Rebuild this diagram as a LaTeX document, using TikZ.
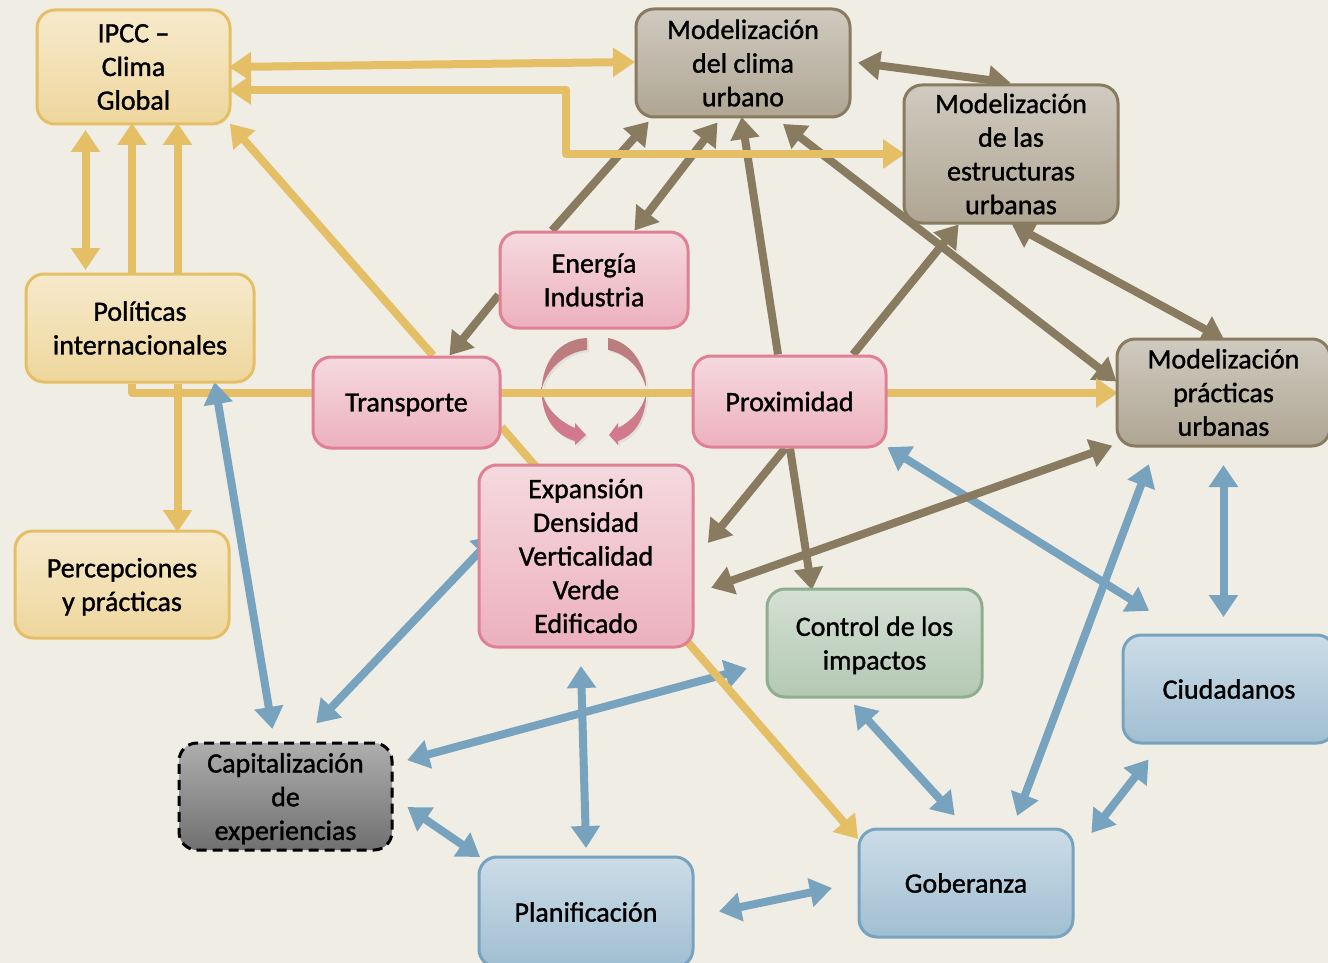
\documentclass[tikz,border=0pt]{standalone}
\usepackage{fontspec}
\setmainfont{Carlito}[BoldFont=Carlito,BoldFeatures={FakeBold=1.2}]
\usetikzlibrary{arrows.meta,shadows,backgrounds}
\definecolor{bgcol}{HTML}{EFEDE4}
\definecolor{goldcol}{HTML}{E5BF65}
\definecolor{browncol}{HTML}{897B60}
\definecolor{bluecol}{HTML}{78A3BF}
\definecolor{pinkcol}{HTML}{E08095}
\definecolor{greencol}{HTML}{8FAE8F}
\tikzset{
  box/.style={rectangle,rounded corners=18pt,line width=3pt,inner sep=0pt,align=center,text=black,
    font=\fontsize{28}{33.7}\selectfont\bfseries},
  lowtext/.style={text depth=0pt},
  goldbox/.style={box,draw=goldcol,top color=goldcol!33!white,bottom color=goldcol!64!white},
  greybox/.style={box,draw=browncol,top color=browncol!40!white,bottom color=browncol!68!white},
  pinkbox/.style={box,draw=pinkcol,top color=pinkcol!30!white,bottom color=pinkcol!62!white},
  greenbox/.style={box,draw=greencol,top color=greencol!38!white,bottom color=greencol!68!white},
  bluebox/.style={box,draw=bluecol,top color=bluecol!38!white,bottom color=bluecol!70!white},
  darkbox/.style={box,draw=black,dash pattern=on 10pt off 6pt,top color=black!32,bottom color=black!56},
  link/.style={line width=8pt,line join=round,shorten <=-2.5pt,shorten >=-2.5pt,
    {Triangle[length=22pt,width=28pt]}-{Triangle[length=22pt,width=28pt]}},
  oneway/.style={line width=8pt,line join=round,shorten >=-2.5pt,-{Triangle[length=22pt,width=28pt]}},
  crescent/.style={top color=pinkcol!55!browncol,bottom color=pinkcol!95!black,
    drop shadow={opacity=.12,shadow xshift=2pt,shadow yshift=-2pt}}
}
\begin{document}
\begin{tikzpicture}[x=1pt,y=-1pt]
  \useasboundingbox (0,0) rectangle (1328,963);
  \coordinate (kneeA) at (566,90);
  \coordinate (kneeB) at (566,154);
  \coordinate (kneeC) at (132,393);

  \node[goldbox,minimum width=193pt,minimum height=114pt] (ipcc) at (133.5,67) {IPCC --\\Clima\\Global};
  \node[goldbox,minimum width=228pt,minimum height=108pt] (polit) at (140,328) {Políticas\\internacionales};
  \node[goldbox,lowtext,minimum width=214pt,minimum height=107pt] (percep) at (122,584.5) {Percepciones\\y prácticas};
  \node[greybox,minimum width=214pt,minimum height=108pt] (mclima) at (743,63) {Modelización\\del clima\\urbano};
  \node[greybox,minimum width=214pt,minimum height=138pt] (mestr) at (1011,154) {Modelización\\de las\\estructuras\\urbanas};
  \node[greybox,minimum width=213pt,minimum height=107pt] (mpract) at (1223.5,392.5) {Modelización\\prácticas\\urbanas};
  \node[pinkbox,minimum width=188pt,minimum height=96pt] (energia) at (594,280) {Energía\\Industria};
  \node[pinkbox,lowtext,minimum width=187pt,minimum height=91pt] (transp) at (406.5,402.5) {Transporte};
  \node[pinkbox,minimum width=193pt,minimum height=91pt] (prox) at (789.5,401.5) {Proximidad};
  \node[pinkbox,minimum width=214pt,minimum height=182pt] (expan) at (586,556) {Expansión\\Densidad\\Verticalidad\\Verde\\Edificado};
  \node[greenbox,lowtext,minimum width=215pt,minimum height=108pt] (control) at (874.5,643) {Control de los\\impactos};
  \node[darkbox,lowtext,minimum width=213pt,minimum height=107pt] (capit) at (285.5,796.5) {Capitalización\\de\\experiencias};
  \node[bluebox,minimum width=214pt,minimum height=110pt] (plan) at (586,912) {Planificación};
  \node[bluebox,minimum width=214pt,minimum height=108pt] (gober) at (966,883) {Goberanza};
  \node[bluebox,minimum width=212pt,minimum height=108pt] (ciud) at (1229,689) {Ciudadanos};

  \begin{scope}[on background layer]
    \fill[bgcol] (0,0) rectangle (1328,963);
    % blue ones
    \begin{scope}[bluecol]
      \draw[link] ([shift={(16,-19)}]expan.west) -- ([shift={(32.5,-20)}]capit.north);
      \draw[link] ([shift={(16,-37)}]capit.east) -- ([shift={(-21,26)}]control.west);
      \draw[link] ([shift={(16,12)}]capit.east) -- ([shift={(-108,0)}]plan.north);
      \draw[link] ([shift={(-5,20)}]expan.south) -- ([shift={(0,-10)}]plan.north);
      \draw[link] ([shift={(27,-1)}]plan.east) -- ([shift={(-28,5.5)}]gober.west);
      \draw[link] ([shift={(-19,8)}]control.south) -- ([shift={(-13,-14)}]gober.north);
      \draw[link] ([shift={(52,-14)}]gober.north) -- ([shift={(-75.5,19)}]mpract.south);
      \draw[link] ([shift={(18.5,-52)}]gober.east) -- ([shift={(-82,17)}]ciud.south);
      \draw[link] ([shift={(0,20)}]mpract.south) -- ([shift={(-5.5,-19)}]ciud.north);
      \draw[link] ([shift={(2,0)}]prox.south east) -- ([shift={(-82,-24)}]ciud.north);
    \end{scope}
    % brown ones
    \begin{scope}[browncol]
      \draw[oneway] ([shift={(-42,0)}]energia.north) -- ([shift={(-96,5)}]mclima.south);
      \draw[link] ([shift={(-27,6)}]mclima.south) -- ([shift={(42,-2)}]energia.north);
      \draw[oneway] ([shift={(0,15)}]energia.west) -- ([shift={(44.5,-2)}]transp.north);
      \draw[oneway] ([shift={(-11.5,0)}]prox.north) -- ([shift={(-1,1)}]mclima.south);
      \draw[oneway] ([shift={(63.5,0)}]prox.north) -- ([shift={(-54,2)}]mestr.south);
      \draw[link] ([shift={(42,7)}]mclima.south) -- ([shift={(-1,-12.5)}]mpract.west);
      \draw[link] ([shift={(3,1)}]mestr.south) -- ([shift={(-1.5,1)}]mpract.north);
      \draw[link] ([shift={(9,0)}]mclima.east) -- ([shift={(-3,-1)}]mestr.north);
      \draw[oneway] ([shift={(-4.5,0)}]prox.south) -- ([shift={(15,-15)}]expan.east);
      \draw[oneway] ([shift={(0.5,0)}]prox.south) -- ([shift={(-63,0)}]control.north);
      \draw[link] ([shift={(-113.5,-1)}]mpract.south) -- ([shift={(19,31)}]expan.east);
    \end{scope}
    % turning arrows in the middle
    \path[crescent] (587,338) .. controls (560,339) and (543,360) .. (541.5,390)
      .. controls (542,415) and (552,434) .. (575,441) -- (575,445) -- (586,435) -- (575,423) -- (575,428)
      .. controls (556,420) and (544,405) .. (541.5,390)
      .. controls (546,370) and (565,352) .. (587,350) -- cycle;
    \path[crescent] (608,338) .. controls (630,342) and (645,362) .. (646.7,390)
      .. controls (646,415) and (638,434) .. (618,441) -- (618,445) -- (609,435) -- (618,423) -- (618,428)
      .. controls (634,420) and (645,405) .. (646.7,390)
      .. controls (642,370) and (628,354) .. (608,350) -- cycle;
    % gold ones
    \begin{scope}[goldcol]
      \draw[link] (ipcc.east) -- ([shift={(-2,-1)}]mclima.west);
      \draw[link] ([shift={(0,23)}]ipcc.east) -- (kneeA) -- (kneeB) -- (mestr.west);
      \draw[link] ([shift={(-48,7)}]ipcc.south) -- ([shift={(-54.5,-5)}]polit.north);
      \draw[oneway] ([shift={(-8,0)}]polit.north) -- ([shift={(-1.5,0)}]ipcc.south);
      \draw[oneway] ([shift={(37.5,0)}]polit.north) -- ([shift={(44,0)}]ipcc.south);
      \draw[oneway] ([shift={(26.5,0)}]transp.north) -- (ipcc.south east);
      \draw[oneway] ([shift={(-8,0)}]polit.south) -- (kneeC) -- ([shift={(0,0.5)}]mpract.west);
      \draw[oneway] ([shift={(37.5,0)}]polit.south) -- ([shift={(55.5,0)}]percep.north);
      \draw[oneway] ([shift={(0,24.5)}]transp.east) -- ([shift={(-1,-46)}]gober.west);
    \end{scope}
    \draw[link,bluecol] ([shift={(75,1)}]polit.south) -- ([shift={(-13.5,-15)}]capit.north);
  \end{scope}
\end{tikzpicture}
\end{document}
